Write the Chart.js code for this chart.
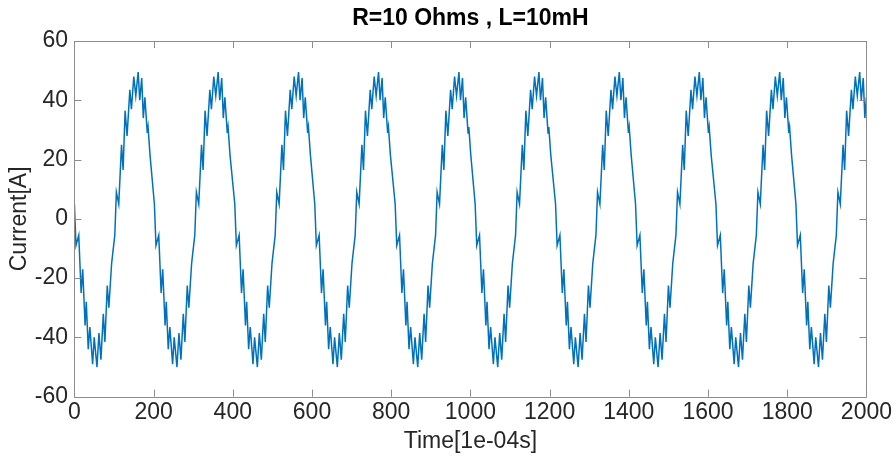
<!DOCTYPE html>
<html>
<head>
<meta charset="utf-8">
<script src="https://cdn.jsdelivr.net/npm/chart.js@4"></script>
<style>
  html, body { margin: 0; padding: 0; background: #fff; overflow: hidden; }
</style>
</head>
<body>
<canvas id="plot" width="894" height="461"></canvas>
<script>
(() => {
  'use strict'

  // start time of each cycle of the current
  const cycleStart = [0, 202, 405, 607, 810, 1012, 1215, 1417, 1620, 1822]

  // one cycle of the waveform: time from cycle start and current [A]
  const cycleTime = [0, 4, 11, 17, 21, 27, 30, 35, 39, 46, 50, 57, 62, 67, 73, 77, 83, 87, 94, 102,
    106, 112, 119, 123, 128, 133, 140, 144, 150, 155, 161, 165, 170, 174, 178, 184, 186, 191]
  const cycleCurrent = [5, -9, -5.5, -25, -17, -36, -28, -44, -36.5, -49, -40, -50, -38.5, -47.5, -32, -41.5, -22.5, -30, -15, -5.5,
    9, 5, 25, 16.5, 36.5, 28, 43.5, 37, 48, 41.5, 49.5, 40, 47.5, 34, 41, 29, 31, 21.5]

  // tick labels
  const xTicks = [0, 200, 400, 600, 800, 1000, 1200, 1400, 1600, 1800, 2000]
  const yTicks = [-60, -40, -20, 0, 20, 40, 60]

  const points = []
  cycleStart.forEach(s => {
    cycleTime.forEach((t, i) => points.push({ x: s + t, y: cycleCurrent[i] }))
  })

  const textColor = '#262626'
  const font = { family: "'Liberation Sans', Arial, sans-serif", size: 23 }

  // MATLAB style box with inward ticks
  const boxPlugin = {
    id: 'matlabBox',
    afterDatasetsDraw(chart) {
      const { ctx, chartArea: a, scales } = chart
      ctx.save()
      ctx.strokeStyle = '#8c8c8c'
      ctx.lineWidth = 1
      ctx.beginPath()
      ctx.rect(Math.round(a.left) + 0.5, Math.round(a.top) + 0.5,
        Math.round(a.right - a.left), Math.round(a.bottom - a.top))
      xTicks.forEach(v => {
        const px = Math.round(scales.x.getPixelForValue(v)) + 0.5
        ctx.moveTo(px, a.bottom); ctx.lineTo(px, a.bottom - 7)
        ctx.moveTo(px, a.top); ctx.lineTo(px, a.top + 7)
      })
      yTicks.forEach(v => {
        const py = Math.round(scales.y.getPixelForValue(v)) + 0.5
        ctx.moveTo(a.left, py); ctx.lineTo(a.left + 7, py)
        ctx.moveTo(a.right, py); ctx.lineTo(a.right - 7, py)
      })
      ctx.stroke()
      ctx.restore()
    }
  }

  new Chart(document.getElementById('plot'), {
    type: 'line',
    data: {
      datasets: [{
        data: points,
        borderColor: '#0072BD',
        borderWidth: 1.5,
        pointRadius: 0,
        tension: 0,
        fill: false
      }]
    },
    options: {
      responsive: false,
      animation: false,
      layout: { padding: { top: 0, right: 26, bottom: 0, left: 0 } },
      plugins: {
        legend: { display: false },
        tooltip: { enabled: false },
        title: {
          display: true,
          text: 'R=10 Ohms , L=10mH',
          fullSize: false,
          color: '#000',
          font: { family: font.family, size: 23, weight: 'bold' },
          padding: { top: 5, bottom: 8.4 }
        }
      },
      scales: {
        x: {
          type: 'linear',
          min: 0,
          max: 2000,
          grid: { display: false, drawTicks: false },
          border: { display: false },
          afterBuildTicks: s => { s.ticks = xTicks.map(v => ({ value: v })) },
          afterFit: s => { s.height = 64.3 },
          ticks: { color: textColor, font, padding: 2, maxRotation: 0, autoSkip: false,
            callback: v => String(v) },
          title: {
            display: true, text: 'Time[1e-04s]', color: textColor, font,
            padding: { top: 5.7, bottom: 5.7 }
          }
        },
        y: {
          min: -60,
          max: 60,
          grid: { display: false, drawTicks: false },
          border: { display: false },
          afterBuildTicks: s => { s.ticks = yTicks.map(v => ({ value: v })) },
          afterFit: s => { s.width = 74.4 },
          ticks: { color: textColor, font, padding: 6.4, callback: v => String(v) },
          title: {
            display: true, text: 'Current[A]', color: textColor, font,
            padding: { top: 6, bottom: 6 }
          }
        }
      }
    },
    plugins: [boxPlugin]
  })
})()
</script>
</body>
</html>
